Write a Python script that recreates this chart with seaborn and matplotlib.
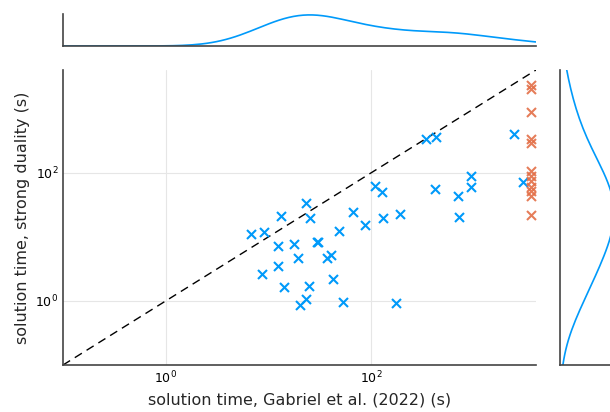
import numpy as np
import pandas as pd
import matplotlib
matplotlib.use("Agg")
import matplotlib.pyplot as plt
import matplotlib.ticker as mticker
import seaborn as sns

# -------------------------------
# Data (seconds)
# -------------------------------
# instances solved by both methods
gabriel_solved = [6.8, 9.1, 13.2, 22.9, 25.1, 12.3, 17.8, 29.5, 30.2, 19.5,
                  12.3, 8.7, 14.1, 24.5, 20.4, 22.9, 37.2, 40.7, 49.0, 42.7,
                  52.5, 66.1, 87.1, 128.8, 190.5, 109.6, 125.9, 173.8, 338.8, 426.6,
                  416.9, 691.8, 933.3, 933.3, 707.9, 2454.7, 3019.9]
strong_solved = [11.2, 12.0, 21.4, 33.1, 20.0, 7.2, 7.6, 8.3, 8.3, 4.6,
                 3.5, 2.6, 1.66, 1.70, 0.87, 1.07, 4.6, 5.2, 12.3, 2.2,
                 0.95, 24.5, 15.5, 20.0, 22.9, 63.1, 50.1, 0.93, 331.1, 363.1,
                 56.2, 42.7, 89.1, 60.3, 20.4, 407.4, 72.4]

# instances where Gabriel et al. hit the time limit
time_limit = 3600.0
strong_timeout = [2371.4, 1995.3, 891.3, 331.1, 295.1, 104.7, 89.1, 75.0,
                  60.3, 52.5, 43.7, 21.9]

lims = [0.1, 4000.0]

blue = "#009AFA"
red = "#E36F47"

solved = pd.DataFrame({"gabriel": gabriel_solved, "strong": strong_solved})
timeout = pd.DataFrame({"gabriel": [time_limit] * len(strong_timeout),
                        "strong": strong_timeout})
all_strong = pd.Series(strong_solved + strong_timeout)

# -------------------------------
# Figure layout
# -------------------------------
sns.set_style("white")
plt.rcParams["font.family"] = ["DejaVu Sans"]

W, H = 610, 412
fig = plt.figure(figsize=(W / 100, H / 100), dpi=100)

def box(x0, y0, x1, y1):
    # pixel box -> figure fraction
    return [x0 / W, 1 - y1 / H, (x1 - x0) / W, (y1 - y0) / H]

ax = fig.add_axes(box(63, 70, 536, 365))
ax_top = fig.add_axes(box(63, 14, 536, 46))
ax_right = fig.add_axes(box(560, 70, 660, 365))

spine_col = "#444444"

# -------------------------------
# Main scatter
# -------------------------------
ax.set_xscale("log")
ax.set_yscale("log")
ax.plot(lims, lims, ls=(0, (6, 4)), color="black", lw=1.0, zorder=1)
sns.scatterplot(data=solved, x="gabriel", y="strong", marker="x", color=blue,
                s=42, linewidth=1.5, ax=ax, zorder=3)
sns.scatterplot(data=timeout, x="gabriel", y="strong", marker="x", color=red,
                s=42, linewidth=1.5, alpha=0.9, ax=ax, zorder=3)
ax.set_xlim(lims)
ax.set_ylim(lims)

for a in (ax.xaxis, ax.yaxis):
    a.set_major_locator(mticker.LogLocator(base=100))
    a.set_minor_locator(mticker.NullLocator())
    a.set_major_formatter(mticker.LogFormatterSciNotation(base=10))
ax.grid(True, color="#e6e6e6", lw=0.8)
ax.tick_params(direction="in", length=4, width=1, labelsize=9, colors=spine_col,
               labelcolor="black")
ax.set_xlabel("solution time, Gabriel et al. (2022) (s)", fontsize=11.5, labelpad=4)
ax.set_ylabel("solution time, strong duality (s)", fontsize=11.5, labelpad=4)

# -------------------------------
# Marginal KDEs
# -------------------------------
sns.kdeplot(x=solved["gabriel"], log_scale=True, color=blue, lw=1.2, cut=10,
            bw_adjust=0.95, ax=ax_top)
ax_top.set_xlim(lims)
top_peak = ax_top.lines[0].get_ydata().max()
ax_top.set_ylim(0, top_peak * 1.03)

sns.kdeplot(y=all_strong, log_scale=True, color=blue, lw=1.2, cut=10,
            bw_adjust=1.5, ax=ax_right)
ax_right.set_ylim(lims)
right_peak = ax_right.lines[0].get_xdata().max()
# the right panel runs past the figure edge, peak sits just past it
ax_right.set_xlim(0, right_peak * 100 / 54)

for a in (ax, ax_top, ax_right):
    sns.despine(ax=a)
    for s in ("left", "bottom"):
        a.spines[s].set_color(spine_col)
        a.spines[s].set_linewidth(1.2)

for a in (ax_top, ax_right):
    a.set_xlabel("")
    a.set_ylabel("")
    a.set_xticks([])
    a.set_yticks([])
    a.xaxis.set_minor_locator(mticker.NullLocator())
    a.yaxis.set_minor_locator(mticker.NullLocator())

fig.savefig("out.png", dpi=100)
